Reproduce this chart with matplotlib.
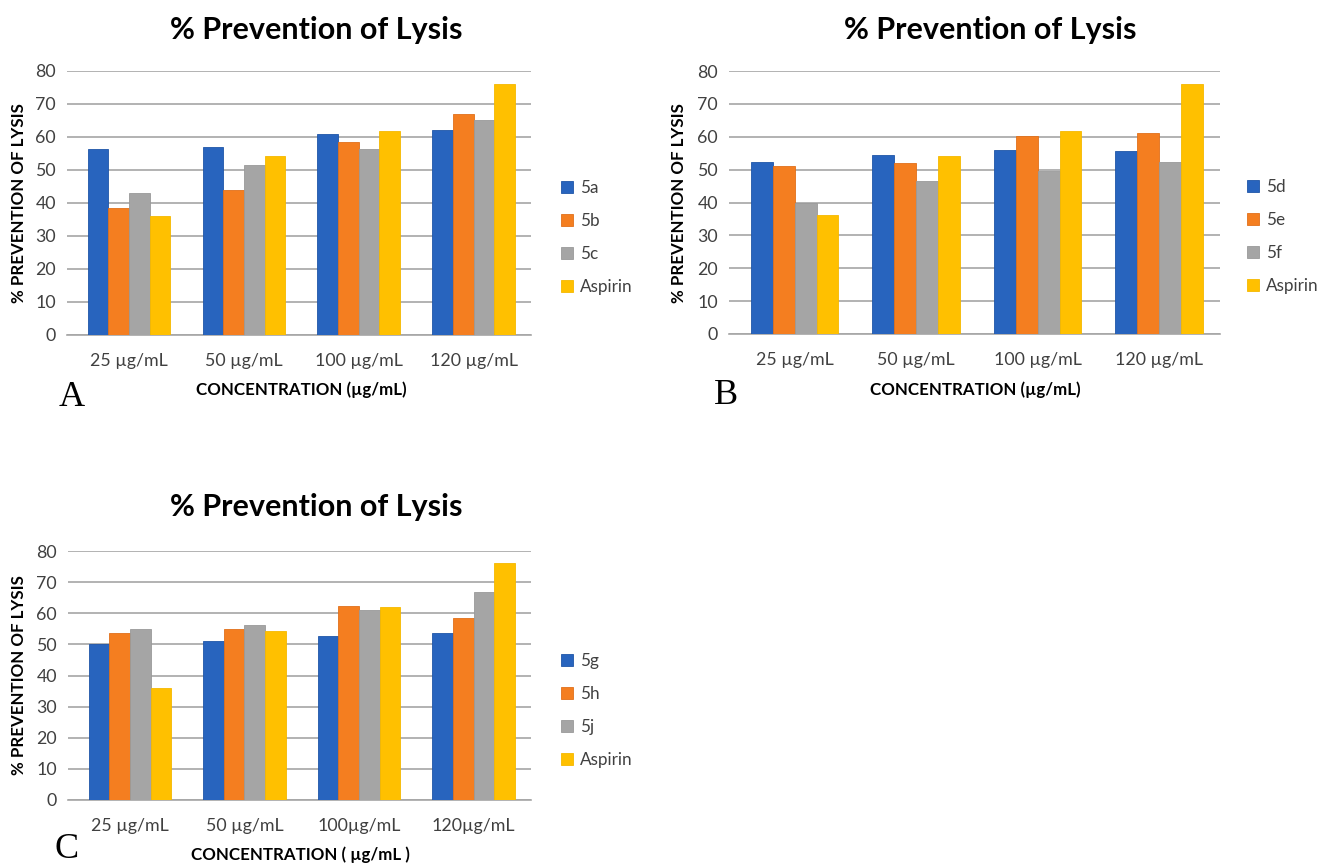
import numpy as np
import matplotlib.pyplot as plt

plt.rcParams['font.family'] = ['Lato', 'DejaVu Sans']

conc_ab = ['25 µg/mL', '50 µg/mL', '100 µg/mL', '120 µg/mL']
conc_c = ['25 µg/mL', '50 µg/mL', '100µg/mL', '120µg/mL']

# panel A
labels_a = ['5a', '5b', '5c', 'Aspirin']
vals_a = [
    [56.5, 57.0, 61.0, 62.2],   # 5a
    [38.5, 43.8, 58.4, 67.0],   # 5b
    [43.0, 51.4, 56.4, 65.3],   # 5c
    [36.2, 54.2, 61.9, 76.1],   # Aspirin
]

# panel B
labels_b = ['5d', '5e', '5f', 'Aspirin']
vals_b = [
    [52.2, 54.6, 56.0, 55.6],
    [51.1, 52.0, 60.2, 61.0],
    [40.0, 46.4, 49.6, 52.3],
    [36.2, 54.2, 61.9, 76.1],
]

# panel C
labels_c = ['5g', '5h', '5j', 'Aspirin']
vals_c = [
    [50.0, 51.0, 52.6, 53.8],
    [53.7, 55.0, 62.4, 58.5],
    [55.0, 56.2, 61.2, 66.9],
    [36.0, 54.4, 62.1, 76.0],
]

colors = ['#2864BE', '#F47E20', '#A5A5A5', '#FFC000']
edges = ['#1f55a8', '#e0701a', '#9a9a9a', '#f5b800']

W, H = 1322, 864
fig = plt.figure(figsize=(W / 100, H / 100), dpi=100)


def px_ax(l, t, r, b):
    return fig.add_axes([l / W, 1 - b / H, (r - l) / W, (b - t) / H])


def ftext(x, y, s, **kw):
    fig.text(x / W, 1 - y / H, s, ha='center', va='center', **kw)


def panel(ax, cats, vals, labels, leg_x, leg_y):
    x = np.arange(len(cats))
    bw = 0.18
    for i, (v, lab) in enumerate(zip(vals, labels)):
        ax.bar(x + (i - 1.5) * bw, v, bw, color=colors[i], edgecolor=edges[i],
               linewidth=0.6, label=lab, zorder=3)
    ax.set_ylim(0, 80)
    ax.set_yticks(range(0, 81, 10))
    ax.set_xlim(-0.54, 3.5)
    ax.set_xticks(x)
    ax.set_xticklabels(cats)
    ax.grid(axis='y', color='#a6a6a6', linewidth=1.2, zorder=0)
    for s in ['top', 'right', 'left']:
        ax.spines[s].set_visible(False)
    ax.spines['bottom'].set_color('#a6a6a6')
    ax.spines['bottom'].set_linewidth(1.2)
    ax.tick_params(axis='both', length=0, labelsize=12.8, colors='#404040')
    ax.tick_params(axis='x', pad=13)
    ax.tick_params(axis='y', pad=8)
    ax.legend(loc='center left', bbox_to_anchor=(leg_x, leg_y), frameon=False,
              fontsize=12.3, handlelength=0.7, handleheight=0.7,
              handletextpad=0.4, labelspacing=1.0, borderpad=0,
              borderaxespad=0, labelcolor='#404040')


axA = px_ax(67, 71, 531, 335)
panel(axA, conc_ab, vals_a, labels_a, 1.065, 0.37)
axB = px_ax(729, 71, 1220, 334)
panel(axB, conc_ab, vals_b, labels_b, 1.055, 0.37)
axC = px_ax(68, 551, 531, 800)
panel(axC, conc_c, vals_c, labels_c, 1.065, 0.36)

title_kw = dict(fontsize=22, fontweight='bold', color='black')
ftext(316, 30, '% Prevention of Lysis', **title_kw)
ftext(990, 30, '% Prevention of Lysis', **title_kw)
ftext(316, 507, '% Prevention of Lysis', **title_kw)

lab_kw = dict(fontsize=12.2, fontweight='bold', color='black')
ftext(301, 390, 'CONCENTRATION (µg/mL)', **lab_kw)
ftext(975, 390, 'CONCENTRATION (µg/mL)', **lab_kw)
ftext(300, 855, 'CONCENTRATION ( µg/mL )', **lab_kw)
ftext(19, 203, '% PREVENTION OF LYSIS', rotation=90, **lab_kw)
ftext(679, 203, '% PREVENTION OF LYSIS', rotation=90, **lab_kw)
ftext(19, 675, '% PREVENTION OF LYSIS', rotation=90, **lab_kw)

let_kw = dict(fontsize=26, family='Liberation Serif', color='black')
ftext(72, 398, 'A', **let_kw)
ftext(726, 396, 'B', **let_kw)
ftext(67, 849, 'C', **let_kw)

fig.savefig('out.png', dpi=100)
